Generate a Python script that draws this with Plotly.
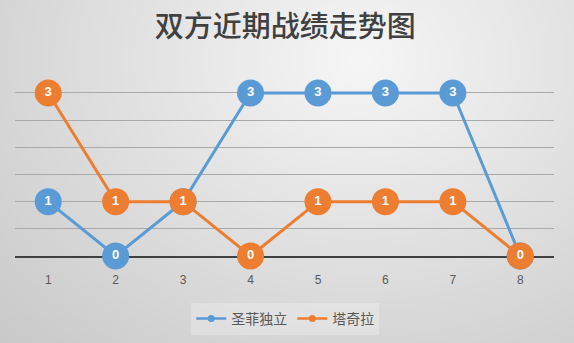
import base64, struct, zlib
import numpy as np
import plotly.graph_objects as go

W, H = 574, 343

# ---- data ----
rounds = ["1", "2", "3", "4", "5", "6", "7", "8"]
team_a_name = "圣菲独立"
team_b_name = "塔奇拉"
team_a = [1, 0, 1, 3, 3, 3, 3, 0]
team_b = [3, 1, 1, 0, 1, 1, 1, 0]
title_text = "双方近期战绩走势图"

blue = "#5b9bd5"
orange = "#ed7d31"


# ---- background gradient image (radial, light near top centre) ----
def gray_png(arr):
    arr = np.clip(arr, 0, 255).astype(np.uint8)
    h, w = arr.shape
    raw = b"".join(b"\x00" + arr[i].tobytes() for i in range(h))

    def chunk(tag, data):
        c = struct.pack(">I", len(data)) + tag + data
        return c + struct.pack(">I", zlib.crc32(tag + data) & 0xFFFFFFFF)

    png = b"\x89PNG\r\n\x1a\n"
    png += chunk(b"IHDR", struct.pack(">IIBBBBB", w, h, 8, 0, 0, 0, 0))
    png += chunk(b"IDAT", zlib.compress(raw, 9))
    png += chunk(b"IEND", b"")
    return "data:image/png;base64," + base64.b64encode(png).decode()


yy, xx = np.mgrid[0:H, 0:W].astype(float)
d = np.sqrt(((xx - 360) / 420.0) ** 2 + ((yy - 60) / 330.0) ** 2)
bg = 246 - 37 * d
bg_uri = gray_png(bg)

fig = go.Figure()

# real traces (hidden from legend)
fig.add_trace(go.Scatter(
    x=rounds, y=team_a, mode="lines+markers+text", name=team_a_name,
    line=dict(color=blue, width=3),
    marker=dict(color=blue, size=27),
    text=[str(v) for v in team_a], textposition="middle center",
    textfont=dict(color="white", size=13, family="Liberation Sans", weight="bold"),
    cliponaxis=False, showlegend=False, hoverinfo="skip"))
fig.add_trace(go.Scatter(
    x=rounds, y=team_b, mode="lines+markers+text", name=team_b_name,
    line=dict(color=orange, width=3),
    marker=dict(color=orange, size=27),
    text=[str(v) for v in team_b], textposition="middle center",
    textfont=dict(color="white", size=13, family="Liberation Sans", weight="bold"),
    cliponaxis=False, showlegend=False, hoverinfo="skip"))

# legend entries with small markers
fig.add_trace(go.Scatter(x=[None], y=[None], mode="lines+markers", name=team_a_name,
                         line=dict(color=blue, width=2.5), marker=dict(color=blue, size=7)))
fig.add_trace(go.Scatter(x=[None], y=[None], mode="lines+markers", name=team_b_name,
                         line=dict(color=orange, width=2.5), marker=dict(color=orange, size=7)))

ytop = 3.1
px_per_unit = (256 - 93) / 3.0

fig.update_layout(
    width=W, height=H,
    margin=dict(l=0, r=0, t=0, b=0),
    paper_bgcolor="#dcdcdc",
    plot_bgcolor="rgba(0,0,0,0)",
    images=[dict(source=bg_uri, xref="paper", yref="paper", x=0, y=1,
                 sizex=1, sizey=1, xanchor="left", yanchor="top",
                 sizing="stretch", layer="below")],
    title=dict(text=title_text, x=0.497, xanchor="center", y=1 - 27 / H, yanchor="middle",
               font=dict(family="Noto Sans CJK SC", size=29, color="#404040", weight=500)),
    xaxis=dict(
        type="category", domain=[14.5 / W, 554 / W], range=[-0.5, 7.5],
        showline=True, linecolor="#404040", linewidth=2, layer="below traces",
        showgrid=False, zeroline=False, ticks="",
        tickfont=dict(family="Liberation Sans", size=12, color="#595959"),
        ticklabelstandoff=12,
    ),
    yaxis=dict(
        domain=[1 - 256 / H, 1 - (93 - (ytop - 3) * px_per_unit) / H], range=[0, ytop],
        tickvals=[0.5, 1, 1.5, 2, 2.5, 3], showticklabels=False, showgrid=True,
        layer="below traces",
        gridcolor="#a9a9a9", gridwidth=1, zeroline=False, showline=False,
    ),
    legend=dict(orientation="h", x=0.497, xanchor="center", y=1 - 319 / H, yanchor="middle",
                bgcolor="rgba(255,255,255,0.25)",
                font=dict(family="Noto Sans CJK SC", size=14, color="#595959"),
                itemclick=False, itemdoubleclick=False),
    showlegend=True,
)

fig.write_html("out.html")
